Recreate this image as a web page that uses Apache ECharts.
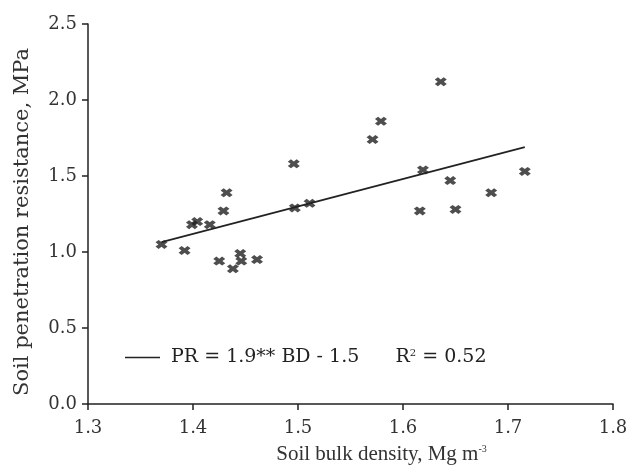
<!DOCTYPE html>
<html>
<head>
<meta charset="utf-8">
<script src="https://cdn.jsdelivr.net/npm/echarts@6/dist/echarts.min.js"></script>
<style>
  html, body { margin: 0; padding: 0; background: #fff; }
  #chart { width: 634px; height: 466px; }
</style>
</head>
<body>
<div id="chart"></div>
<script>
// bulk density (Mg m-3) vs penetration resistance (MPa)
const bulkDensity = [1.370, 1.392, 1.399, 1.404, 1.416, 1.429, 1.432, 1.425, 1.438, 1.445, 1.446, 1.461,
  1.496, 1.497, 1.511, 1.571, 1.579, 1.616, 1.619, 1.636, 1.645, 1.650, 1.684, 1.716];
const resistance = [1.05, 1.01, 1.18, 1.20, 1.18, 1.27, 1.39, 0.94, 0.89, 0.99, 0.94, 0.95,
  1.58, 1.29, 1.32, 1.74, 1.86, 1.27, 1.54, 2.12, 1.47, 1.28, 1.39, 1.53];
// regression line end points
const fitX = [1.37, 1.716];
const fitY = [1.065, 1.69];
const xTicks = [1.3, 1.4, 1.5, 1.6, 1.7, 1.8];
const yTicks = [0, 0.5, 1.0, 1.5, 2.0, 2.5];

const chart = echarts.init(document.getElementById("chart"));
// bold "x" marker
const crossPath = "path://M0,2.6L2.6,0L5,2.4L7.4,0L10,2.6L7.6,5L10,7.4L7.4,10L5,7.6L2.6,10L0,7.4L2.4,5Z";
const ink = "#222";

const option = {
  animation: false,
  grid: { left: 88, right: 21, top: 24, bottom: 62, outerBoundsMode: "none" },
  legend: {
    left: 120,
    top: 343,
    data: [{ name: "fit", icon: "rect" }],
    itemWidth: 35,
    itemHeight: 1.5,
    formatter: () => " PR = 1.9** BD - 1.5      R{sup|2} = 0.52",
    textStyle: {
      fontFamily: "DejaVu Serif",
      fontSize: 19,
      color: ink,
      rich: {
        sup: { fontFamily: "DejaVu Serif", fontSize: 10, verticalAlign: "top", color: ink }
      }
    }
  },
  xAxis: {
    type: "value",
    min: xTicks[0],
    max: xTicks[xTicks.length - 1],
    interval: 0.1,
    name: "Soil bulk density, Mg m{sup|-3}",
    nameLocation: "middle",
    nameGap: 40,
    nameTextStyle: {
      fontFamily: "Liberation Serif",
      fontSize: 21,
      color: "#333",
      padding: [0, 0, 0, 62],
      rich: { sup: { fontFamily: "Liberation Serif", fontSize: 10, verticalAlign: "top", color: "#333" } }
    },
    axisLine: { lineStyle: { color: ink, width: 1.5 } },
    axisTick: { length: 6, lineStyle: { color: ink, width: 1.5 } },
    axisLabel: {
      margin: 15,
      fontFamily: "DejaVu Serif",
      fontSize: 18,
      color: "#333",
      formatter: v => v.toFixed(1)
    },
    splitLine: { show: false }
  },
  yAxis: {
    type: "value",
    min: yTicks[0],
    max: yTicks[yTicks.length - 1],
    interval: 0.5,
    name: "Soil penetration resistance, MPa",
    nameLocation: "middle",
    nameGap: 55,
    nameTextStyle: { fontFamily: "DejaVu Serif", fontSize: 21, color: "#333", padding: [0, 16, 0, 0] },
    axisLine: { show: true, lineStyle: { color: ink, width: 1.5 } },
    axisTick: { show: true, length: 6, lineStyle: { color: ink, width: 1.5 } },
    axisLabel: {
      margin: 11,
      fontFamily: "DejaVu Serif",
      fontSize: 18,
      color: "#333",
      formatter: v => v.toFixed(1)
    },
    splitLine: { show: false }
  },
  series: [
    {
      name: "points",
      type: "scatter",
      symbol: crossPath,
      symbolSize: [12, 9],
      itemStyle: { color: ink },
      data: bulkDensity.map((x, i) => [x, resistance[i]])
    },
    {
      name: "fit",
      type: "line",
      showSymbol: false,
      lineStyle: { color: ink, width: 1.6 },
      itemStyle: { color: ink },
      data: fitX.map((x, i) => [x, fitY[i]])
    }
  ]
};

chart.setOption(option);
</script>
</body>
</html>
